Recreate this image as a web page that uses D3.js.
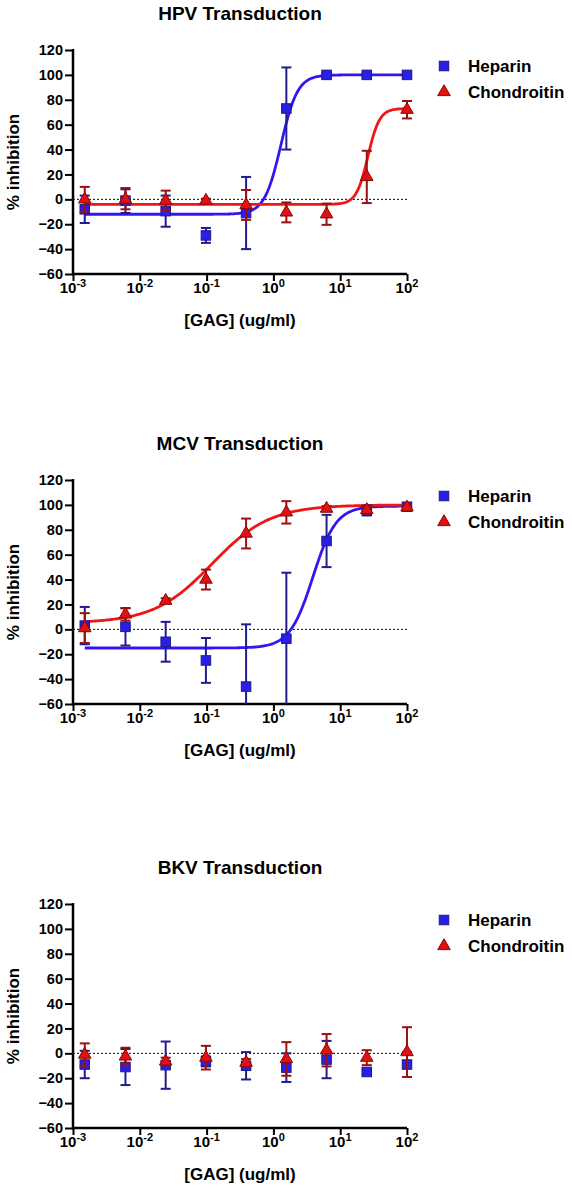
<!DOCTYPE html>
<html>
<head>
<meta charset="utf-8">
<script src="https://cdn.jsdelivr.net/npm/d3@7"></script>
<style>
  html, body { margin: 0; padding: 0; background: #ffffff; }
  svg { display: block; }
  text { font-family: "Liberation Sans", Arial, sans-serif; font-weight: bold; fill: #000; }
</style>
</head>
<body>
<svg id="chart" width="572" height="1192"></svg>
<script>
// ---------------- DATA ----------------
const concentrations = [0.0015, 0.0061, 0.0244, 0.0977, 0.39, 1.5625, 6.25, 25, 100];
const panelTitles = ["HPV Transduction", "MCV Transduction", "BKV Transduction"];
const seriesNames = ["Heparin", "Chondroitin"];
const yTicks = [-60, -40, -20, 0, 20, 40, 60, 80, 100, 120];
const xTickExponents = [-3, -2, -1, 0, 1, 2];
const xAxisLabel = "[GAG] (ug/ml)";
const yAxisLabel = "% inhibition";

// HPV
const hpvHeparinMean = [-8, -1, -9.5, -29, -11, 73, 100, 100, 100];
const hpvHeparinErr  = [11, 10, 12.5, 6, 29, 33, 1.5, 1.5, 1.5];
const hpvChondMean   = [0, 0, -1, -1, -4.5, -10.5, -12, 18, 72];
const hpvChondErr    = [10, 8, 8, 1.5, 12, 8, 8.5, 21, 7];
// fitted curve parameters: [bottom, top, EC50, hill]
const hpvHeparinFit  = [-12, 100, 1.3, 3.5];
const hpvChondFit    = [-4, 73, 26, 5];

// MCV
const mcvHeparinMean = [3, 2, -10, -25, -46, -7.5, 71, 95.5, 98.5];
const mcvHeparinErr  = [15, 15, 16, 18, 50, 53, 21, 4, 2];
const mcvChondMean   = [1, 12, 23, 40, 77, 94, 97, 96, 98];
const mcvChondErr    = [12, 5, 2, 8, 12, 9, 2, 3, 2];
const mcvHeparinFit  = [-15, 99, 3.9, 2.5];
const mcvChondFit    = [5, 100, 0.12, 1];

// BKV
const bkvHeparinMean = [-9, -11, -9.5, -6.5, -10, -11.5, -5, -15, -9];
const bkvHeparinErr  = [11, 14.5, 19, 4, 11, 11.5, 15, 2, 10];
const bkvChondMean   = [-1, -2.5, -6.5, -3.5, -7.5, -4.5, 2.5, -3.5, 1];
const bkvChondErr    = [9, 7, 3, 9.5, 3, 13.5, 13, 6, 20];

const panels = [
  { title: panelTitles[0], hep: [hpvHeparinMean, hpvHeparinErr, hpvHeparinFit], cho: [hpvChondMean, hpvChondErr, hpvChondFit] },
  { title: panelTitles[1], hep: [mcvHeparinMean, mcvHeparinErr, mcvHeparinFit], cho: [mcvChondMean, mcvChondErr, mcvChondFit] },
  { title: panelTitles[2], hep: [bkvHeparinMean, bkvHeparinErr, null], cho: [bkvChondMean, bkvChondErr, null] }
];

// ---------------- LAYOUT / STYLE ----------------
const plotTops = [50, 480, 904];
const plotH = 224;
const plotLeft = 73, plotRight = 407;
const colors = {
  hep: { fill: "#2a1fe6", stroke: "#1c1a86", bar: "#1f1c8c", line: "#3516f2" },
  cho: { fill: "#e2100f", stroke: "#8a0808", bar: "#9c1010", line: "#f01616" }
};

const svg = d3.select("#chart");
const x = d3.scaleLog().domain([1e-3, 1e2]).range([plotLeft, plotRight]);

function logistic(p, c) {
  const [bottom, top, ec50, hill] = p;
  return bottom + (top - bottom) / (1 + Math.pow(ec50 / c, hill));
}

function drawSquare(g, cx, cy, col) {
  g.append("rect").attr("x", cx - 4.75).attr("y", cy - 4.75).attr("width", 9.5).attr("height", 9.5)
    .attr("fill", col.fill).attr("stroke", col.stroke).attr("stroke-width", 1);
}
function drawTriangle(g, cx, cy, col) {
  const sym = d3.symbol().type(d3.symbolTriangle).size(68);
  g.append("path").attr("d", sym()).attr("transform", `translate(${cx},${cy})`)
    .attr("fill", col.fill).attr("stroke", col.stroke).attr("stroke-width", 1);
}

panels.forEach((panel, pi) => {
  const top = plotTops[pi];
  const bottom = top + plotH;
  const y = d3.scaleLinear().domain([-60, 120]).range([bottom, top]);
  const g = svg.append("g");

  // title
  g.append("text").attr("x", (plotLeft + plotRight) / 2).attr("y", top - 30)
    .attr("text-anchor", "middle").style("font-size", "19px").text(panel.title);

  // zero line
  g.append("line").attr("x1", plotLeft).attr("x2", plotRight)
    .attr("y1", y(0)).attr("y2", y(0))
    .attr("stroke", "#000").attr("stroke-width", 1).attr("stroke-dasharray", "2,2");

  // y axis
  const yAxis = d3.axisLeft(y).tickValues(yTicks).tickSize(8).tickPadding(2).tickFormat(d3.format("d"));
  const ya = g.append("g").attr("transform", `translate(${plotLeft},0)`).call(yAxis);
  ya.select(".domain").attr("stroke", "#000").attr("stroke-width", 2.5).attr("d", `M0,${top - 1}V${bottom}`);
  ya.selectAll(".tick line").attr("stroke", "#000").attr("stroke-width", 2);
  ya.selectAll(".tick text").style("font-size", "14.5px").style("font-family", '"Liberation Sans", Arial, sans-serif')
    .style("font-weight", "bold").attr("fill", "#000");

  // x axis
  const xAxis = d3.axisBottom(x).tickValues(xTickExponents.map(e => Math.pow(10, e))).tickSize(7).tickFormat("");
  const xa = g.append("g").attr("transform", `translate(0,${bottom})`).call(xAxis);
  xa.select(".domain").attr("stroke", "#000").attr("stroke-width", 2.5).attr("d", `M${plotLeft - 1},0H${plotRight}`);
  xa.selectAll(".tick line").attr("stroke", "#000").attr("stroke-width", 2);
  xTickExponents.forEach(e => {
    const t = xa.append("text").attr("x", x(Math.pow(10, e))).attr("y", 19).attr("text-anchor", "middle")
      .style("font-size", "15px");
    t.append("tspan").text("10");
    t.append("tspan").attr("dy", -6).style("font-size", "11px").text(String(e));
  });

  // axis labels
  g.append("text").attr("x", (plotLeft + plotRight) / 2).attr("y", bottom + 52)
    .attr("text-anchor", "middle").style("font-size", "17px").text(xAxisLabel);
  g.append("text").attr("transform", `translate(19,${(top + bottom) / 2}) rotate(-90)`)
    .attr("text-anchor", "middle").style("font-size", "17px").text(yAxisLabel);

  const series = [["hep", panel.hep, drawSquare], ["cho", panel.cho, drawTriangle]];
  const logMin = Math.log10(concentrations[0]);
  const logMax = Math.log10(concentrations[concentrations.length - 1]);
  const samples = d3.range(0, 301).map(i => Math.pow(10, logMin + i / 300 * (logMax - logMin)));

  // fitted curves
  series.forEach(([key, d]) => {
    const fit = d[2];
    if (!fit) return;
    const line = d3.line().x(c => x(c)).y(c => y(logistic(fit, c)));
    g.append("path").attr("d", line(samples)).attr("fill", "none")
      .attr("stroke", colors[key].line).attr("stroke-width", 2.8);
  });

  // error bars and markers
  series.forEach(([key, d, draw]) => {
    const [means, errs] = d;
    const col = colors[key];
    concentrations.forEach((c, i) => {
      const cx = x(c);
      const hi = means[i] + errs[i], lo = means[i] - errs[i];
      const yt = y(Math.min(120, hi));
      const yb = y(Math.max(-60, lo));
      g.append("line").attr("x1", cx).attr("x2", cx).attr("y1", yt).attr("y2", yb)
        .attr("stroke", col.bar).attr("stroke-width", 2);
      if (hi <= 120)
        g.append("line").attr("x1", cx - 5).attr("x2", cx + 5).attr("y1", yt).attr("y2", yt)
          .attr("stroke", col.bar).attr("stroke-width", 2);
      if (lo >= -60)
        g.append("line").attr("x1", cx - 5).attr("x2", cx + 5).attr("y1", yb).attr("y2", yb)
          .attr("stroke", col.bar).attr("stroke-width", 2);
    });
    concentrations.forEach((c, i) => draw(g, x(c), y(means[i]), col));
  });

  // legend
  const lg = g.append("g");
  drawSquare(lg, 444, top + 16, colors.hep);
  lg.append("text").attr("x", 468).attr("y", top + 22).style("font-size", "17px").text(seriesNames[0]);
  drawTriangle(lg, 444, top + 42, colors.cho);
  lg.append("text").attr("x", 468).attr("y", top + 48).style("font-size", "17px").text(seriesNames[1]);
});
</script>
</body>
</html>
